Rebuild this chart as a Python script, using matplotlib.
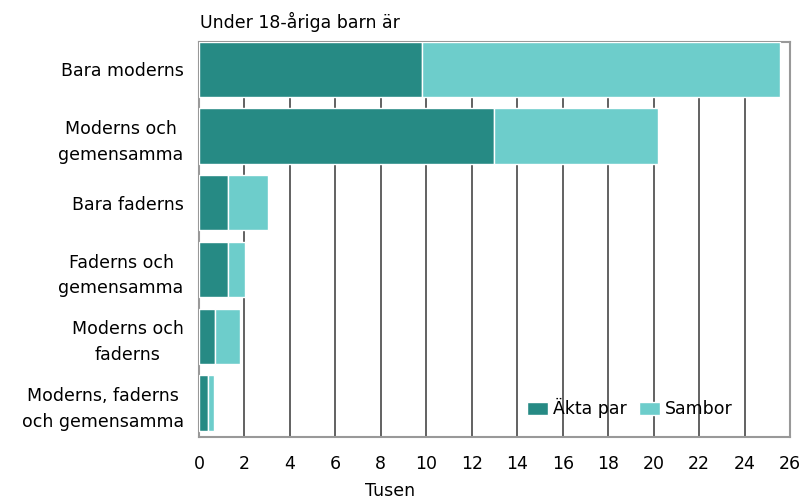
import matplotlib
matplotlib.use("Agg")
from matplotlib import pyplot as plt

# data (tusen)
kategorier = ["Bara moderns", "Moderns och\ngemensamma", "Bara faderns",
              "Faderns och\ngemensamma", "Moderns och\nfaderns",
              "Moderns, faderns\noch gemensamma"]
akta_par = [9.8, 13.0, 1.26, 1.26, 0.7, 0.4]
sambor = [15.75, 7.2, 1.77, 0.77, 1.12, 0.28]
xticks = list(range(0, 27, 2))

mork = "#268a84"
ljus = "#6dcdcb"

plt.rcParams['font.family'] = ['DejaVu Sans']
fig = plt.figure(figsize=(8.03, 4.99), dpi=100)
ax = fig.add_axes([199 / 803, 1 - 437 / 499, 591 / 803, 395 / 499])

y = list(range(len(kategorier)))
ax.barh(y, akta_par, height=0.83, color=mork, edgecolor="white", linewidth=1, label="Äkta par", zorder=3)
ax.barh(y, sambor, left=akta_par, height=0.83, color=ljus, edgecolor="white", linewidth=1, label="Sambor", zorder=3)

ax.set_xlim(0, 26)
ax.set_ylim(5.51, -0.41)
ax.set_xticks(xticks)
ax.set_xticklabels([str(t) for t in xticks], fontsize=12.5)
ax.set_yticks(y)
ax.set_yticklabels(kategorier, fontsize=12.5, multialignment="center", linespacing=1.55)
ax.tick_params(axis="x", length=0, pad=13)
ax.tick_params(axis="y", length=0, pad=11)
ax.xaxis.grid(True, color="#555555", linewidth=1.3, zorder=0)
ax.set_axisbelow(True)
for s in ax.spines.values():
    s.set_color("#999999")
    s.set_linewidth(1.5)

ax.legend(loc="lower right", bbox_to_anchor=(0.915, 0.03), ncol=2, frameon=False, fontsize=12.5,
          handlelength=1.2, handleheight=0.8, handletextpad=0.3, columnspacing=0.7, borderaxespad=0)

fig.text(200 / 803, 1 - 22 / 499, "Under 18-åriga barn är", fontsize=12.5, va="center", ha="left")
fig.text(390 / 803, 1 - 491 / 499, "Tusen", fontsize=12.5, va="center", ha="center")

fig.savefig("out.png", dpi=100)
